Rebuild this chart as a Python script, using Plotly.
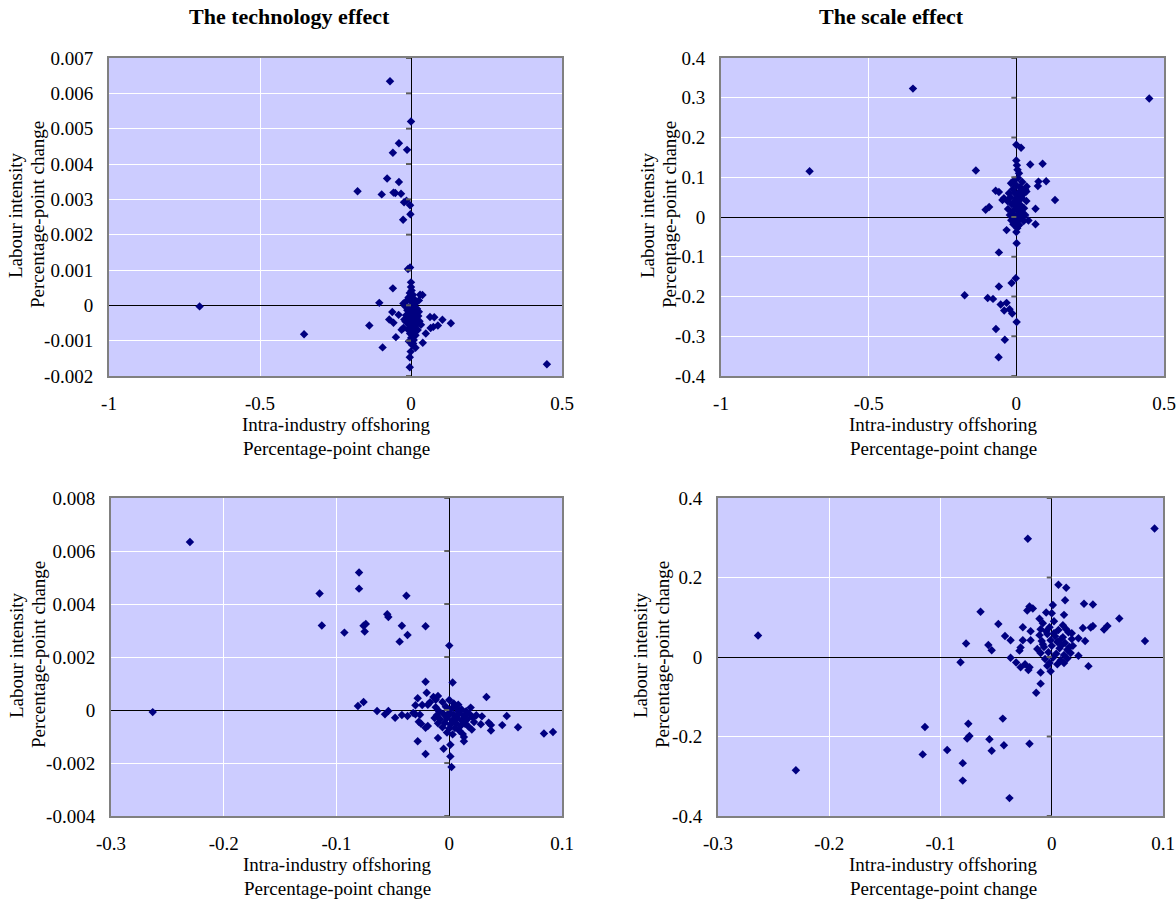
import plotly.graph_objects as go

# ---------------- data ----------------
# Top row: intra-industry offshoring (x) vs labour intensity (y)
tech_top_x = [-0.70, -0.354, 0.45,
    -0.0695, 0.0, -0.040, -0.060, -0.013, -0.079, -0.040, -0.177, -0.097, -0.058, -0.052, -0.033,
    -0.023, -0.015, -0.003, -0.002, -0.026, -0.010, -0.003, 0.0, -0.060, -0.105, -0.138, -0.094,
    0.132, 0.104, 0.089, 0.074, 0.065, 0.063, 0.077, 0.049, 0.039, 0.015, 0.007, -0.001, -0.004,
    -0.004, 0.038, 0.026, -0.062, -0.072, -0.058, -0.041, -0.050, -0.031, -0.025,
    0.000, 0.002, -0.004, 0.006, -0.008, 0.010, -0.015, 0.003, 0.014, -0.020, -0.006, 0.008, 0.020,
    -0.012, 0.001, 0.017, -0.003, 0.011, -0.016, 0.024, 0.005, -0.009, 0.014, -0.001, 0.028, -0.018,
    0.009, 0.019, -0.006, 0.003, 0.012, -0.011, 0.022, 0.006, -0.003, 0.015, 0.001, 0.009, -0.007,
    0.004, 0.030, -0.025, 0.026, -0.022, 0.033]
tech_top_y = [-0.00003, -0.00082, -0.00167,
    0.00634, 0.0052, 0.00459, 0.00432, 0.00440, 0.00359, 0.00349, 0.00323, 0.00314, 0.00319, 0.00318,
    0.00316, 0.00292, 0.00296, 0.00283, 0.00258, 0.00242, 0.00103, 0.00107, 0.00065, 0.00048, 0.00007,
    -0.00057, -0.00119, -0.00051, -0.00041, -0.00057, -0.00061, -0.00064, -0.00033, -0.00034, -0.00080,
    -0.00106, -0.00120, -0.00108, -0.00131, -0.00147, -0.00175, 0.00029, 0.00014, -0.00019, -0.00040,
    -0.00049, -0.00027, -0.00090, -0.00069, -0.00064,
    0.00052, 0.00042, 0.00035, 0.00030, 0.00022, 0.00018, 0.00012, 0.00010, 0.00005, -0.00002, -0.00005,
    -0.00008, -0.00010, -0.00014, -0.00016, -0.00019, -0.00022, -0.00025, -0.00028, -0.00030, -0.00033,
    -0.00036, -0.00040, -0.00042, -0.00045, -0.00046, -0.00050, -0.00054, -0.00056, -0.00060, -0.00065,
    -0.00068, -0.00070, -0.00075, -0.00080, -0.00085, -0.00092, -0.00098, -0.00102, -0.00112, 0.00030,
    0.00005, -0.00018, -0.00040, -0.00055]

scale_top_x = [-0.70, -0.35, 0.45,
    0.0, 0.016, -0.137, 0.047, 0.089, 0.0, 0.002, 0.004, 0.009, 0.075, 0.101, 0.073, 0.131, -0.070,
    -0.059, -0.047, -0.042, -0.104, -0.092, 0.035, 0.034, 0.065, 0.065, 0.041, -0.033, 0.0, 0.004,
    0.001, -0.059, -0.002, -0.016, -0.059, -0.175, -0.097, -0.079, -0.053, -0.033, -0.041, -0.023,
    -0.014, 0.001, -0.069, -0.039, -0.060,
    -0.018, -0.008, 0.006, 0.020, 0.030, -0.025, -0.012, 0.000, 0.012, 0.024, -0.030, -0.020, -0.005,
    0.008, 0.018, 0.034, -0.028, -0.015, -0.002, 0.005, 0.014, 0.026, -0.022, -0.010, 0.000, 0.010,
    0.020, 0.030, -0.017, -0.006, 0.004, 0.015, 0.025, -0.010, 0.002, 0.010, -0.003, 0.007, -0.008,
    0.017, -0.012, 0.003]
scale_top_y = [0.115, 0.323, 0.298,
    0.182, 0.174, 0.117, 0.132, 0.134, 0.142, 0.130, 0.119, 0.110, 0.089, 0.090, 0.078, 0.043, 0.066,
    0.063, 0.043, 0.047, 0.018, 0.025, 0.077, 0.064, 0.021, -0.018, -0.009, -0.033, -0.038, -0.023,
    -0.066, -0.089, -0.154, -0.166, -0.175, -0.197, -0.204, -0.206, -0.220, -0.216, -0.235, -0.232,
    -0.243, -0.264, -0.282, -0.309, -0.353,
    0.085, 0.092, 0.098, 0.088, 0.070, 0.060, 0.070, 0.080, 0.075, 0.058, 0.040, 0.050, 0.060,
    0.062, 0.048, 0.040, 0.020, 0.032, 0.045, 0.040, 0.030, 0.022, 0.005, 0.015, 0.025, 0.018,
    0.010, 0.005, -0.008, 0.000, 0.006, -0.003, -0.010, -0.018, -0.012, -0.020, 0.035, 0.052, 0.038,
    0.065, 0.005, -0.028]

# Bottom row
tech_bot_x = [-0.263, -0.230,
    -0.080, -0.115, -0.080, -0.038, -0.055, -0.054, -0.113, -0.093, -0.076, -0.074, -0.075, -0.042,
    -0.021, -0.037, -0.044, 0.0, -0.021, 0.003, -0.020, 0.033, -0.081, -0.076, -0.028, -0.030, -0.024,
    -0.014, -0.010, -0.012, -0.017, -0.019, -0.064, -0.057, -0.054, -0.048, -0.042, -0.037, -0.032,
    -0.030, -0.026, -0.027, -0.025, -0.021, -0.019, -0.028, -0.021, -0.010, -0.005, 0.001, 0.001,
    0.002, 0.013, 0.013, 0.012, 0.020, 0.029, 0.035, 0.037, 0.037, 0.028, 0.047, 0.051, 0.061, 0.084,
    0.092, 0.024, 0.019,
    -0.012, -0.006, 0.000, 0.004, 0.008, -0.009, -0.003, 0.002, 0.006, 0.011, 0.015, -0.011, -0.005,
    0.000, 0.004, 0.009, 0.013, 0.018, -0.008, -0.002, 0.003, 0.007, 0.011, 0.016, 0.021, -0.010,
    -0.004, 0.001, 0.006, 0.010, 0.014, -0.006, 0.000, 0.005, 0.009, -0.002, 0.003, 0.017, -0.013,
    0.022, 0.008, -0.001]
tech_bot_y = [-0.00008, 0.00634,
    0.00519, 0.00440, 0.00458, 0.00431, 0.00361, 0.00351, 0.00319, 0.00292, 0.00318, 0.00325, 0.00296,
    0.00318, 0.00316, 0.00283, 0.00258, 0.00243, 0.00107, 0.00104, 0.00065, 0.00049, 0.00015, 0.00030,
    0.00044, 0.00018, 0.00019, 0.00049, 0.00053, 0.00039, 0.00029, 0.00020, -0.00004, -0.00016,
    -0.00004, -0.00029, -0.00019, -0.00023, -0.00011, -0.00016, -0.00018, -0.00044, -0.00052,
    -0.00067, -0.00060, -0.00118, -0.00166, -0.00106, -0.00146, -0.00131, -0.00175, -0.00215,
    -0.00118, -0.00102, -0.00091, -0.00074, -0.00024, -0.00048, -0.00057, -0.00077, -0.00054,
    -0.00057, -0.00023, -0.00065, -0.00089, -0.00083, -0.00020, 0.00009,
    0.00010, 0.00030, 0.00038, 0.00025, 0.00020, -0.00005, 0.00012, 0.00005, 0.00010, 0.00002,
    -0.00005, -0.00020, -0.00015, -0.00010, -0.00018, -0.00012, -0.00022, -0.00015, -0.00035,
    -0.00030, -0.00038, -0.00030, -0.00040, -0.00035, -0.00028, -0.00050, -0.00048, -0.00055,
    -0.00050, -0.00060, -0.00052, -0.00065, -0.00070, -0.00068, -0.00078, -0.00085, -0.00092,
    -0.00062, -0.00030, -0.00045, -0.00005, -0.00022]

scale_bot_x = [-0.264, -0.230, 0.0924, -0.0215, 0.0838, 0.0607, 0.050, 0.047,
    0.006, 0.013, 0.012, 0.029, 0.037, 0.001, -0.020, -0.022, -0.017, -0.064, -0.005, 0.0, 0.011,
    -0.011, -0.048, -0.026, 0.028, 0.035, 0.037, -0.019, -0.042, -0.037, -0.077, -0.057, -0.054,
    0.018, 0.024, 0.030, 0.024, 0.033, -0.026, -0.019, -0.028, -0.029, -0.037, -0.032, -0.028,
    -0.024, -0.020, -0.021, -0.082, -0.010, -0.001, -0.010, -0.014, -0.044, -0.075, -0.114, -0.074,
    -0.076, -0.056, -0.043, -0.020, -0.054, -0.116, -0.094, -0.080, -0.080, -0.038,
    -0.008, 0.002, 0.010, -0.010, -0.002, 0.006, 0.015, -0.011, -0.004, 0.003, 0.010, 0.018, -0.009,
    -0.001, 0.005, 0.012, 0.019, -0.007, 0.000, 0.007, 0.014, -0.010, -0.003, 0.004, 0.011, 0.017,
    -0.006, 0.001, 0.008, 0.014, -0.002, 0.005, 0.011, -0.008, 0.008, -0.005, 0.013, 0.016, -0.013,
    0.002, -0.004, 0.009]
scale_bot_y = [0.054, -0.285, 0.3235, 0.2975, 0.040, 0.0966, 0.078, 0.069,
    0.182, 0.174, 0.143, 0.134, 0.132, 0.131, 0.127, 0.117, 0.122, 0.114, 0.112, 0.110, 0.106, 0.096,
    0.083, 0.075, 0.073, 0.074, 0.078, 0.065, 0.053, 0.042, 0.034, 0.030, 0.017, 0.060, 0.047, 0.040,
    0.003, -0.023, 0.042, 0.042, 0.024, 0.016, -0.002, -0.014, -0.026, -0.018, -0.026, -0.033,
    -0.013, -0.039, -0.036, -0.067, -0.090, -0.155, -0.168, -0.176, -0.199, -0.205, -0.207, -0.222,
    -0.218, -0.236, -0.245, -0.234, -0.267, -0.311, -0.355,
    0.085, 0.090, 0.080, 0.070, 0.075, 0.068, 0.062, 0.055, 0.058, 0.052, 0.050, 0.045, 0.040,
    0.042, 0.038, 0.035, 0.028, 0.025, 0.028, 0.022, 0.018, 0.010, 0.012, 0.008, 0.005, 0.010,
    -0.005, -0.002, -0.008, -0.004, -0.015, -0.018, -0.015, 0.032, 0.044, 0.065, 0.070, 0.025,
    0.020, 0.060, -0.022, 0.030]

# Axis ticks and labels
top_x_ticks = [-1, -0.5, 0, 0.5]
top_x_labels = ["-1", "-0.5", "0", "0.5"]
bot_x_ticks = [-0.3, -0.2, -0.1, 0, 0.1]
bot_x_labels = ["-0.3", "-0.2", "-0.1", "0", "0.1"]
tech_top_y_ticks = [-0.002, -0.001, 0, 0.001, 0.002, 0.003, 0.004, 0.005, 0.006, 0.007]
tech_top_y_labels = ["-0.002", "-0.001", "0", "0.001", "0.002", "0.003", "0.004", "0.005", "0.006", "0.007"]
scale_top_y_ticks = [-0.4, -0.3, -0.2, -0.1, 0, 0.1, 0.2, 0.3, 0.4]
scale_top_y_labels = ["-0.4", "-0.3", "-0.2", "-0.1", "0", "0.1", "0.2", "0.3", "0.4"]
tech_bot_y_ticks = [-0.004, -0.002, 0, 0.002, 0.004, 0.006, 0.008]
tech_bot_y_labels = ["-0.004", "-0.002", "0", "0.002", "0.004", "0.006", "0.008"]
scale_bot_y_ticks = [-0.4, -0.2, 0, 0.2, 0.4]
scale_bot_y_labels = ["-0.4", "-0.2", "0", "0.2", "0.4"]

titles = ["The technology effect", "The scale effect"]
x_title_lines = ["Intra-industry offshoring", "Percentage-point change"]
y_title_lines = ["Labour intensity", "Percentage-point change"]

# ---------------- layout ----------------
W, H = 1176, 899
FONT = "Liberation Serif, Times New Roman, serif"
MARK = "#000080"
BG = "#CCCCFF"
FS = 19


def px(x):
    return x / W


def py(y):
    return 1 - y / H


# pixel boxes: (left, right, top, bottom)
boxes = [(109, 562, 58, 376), (721, 1164, 58, 376), (111, 562, 498, 816), (718, 1163, 498, 816)]
panels = [
    (tech_top_x, tech_top_y, top_x_ticks, top_x_labels, tech_top_y_ticks, tech_top_y_labels),
    (scale_top_x, scale_top_y, top_x_ticks, top_x_labels, scale_top_y_ticks, scale_top_y_labels),
    (tech_bot_x, tech_bot_y, bot_x_ticks, bot_x_labels, tech_bot_y_ticks, tech_bot_y_labels),
    (scale_bot_x, scale_bot_y, bot_x_ticks, bot_x_labels, scale_bot_y_ticks, scale_bot_y_labels),
]

fig = go.Figure()
layout = dict(
    width=W, height=H, margin=dict(l=0, r=0, t=0, b=0, autoexpand=False),
    paper_bgcolor="white", showlegend=False,
    font=dict(family=FONT, size=FS, color="black"),
)
shapes = []
for i, ((l, r, t, b), (xs, ys, xt, xl, yt, yl)) in enumerate(zip(boxes, panels)):
    n = "" if i == 0 else str(i + 1)
    fig.add_trace(go.Scatter(
        x=xs, y=ys, mode="markers", xaxis="x" + n, yaxis="y" + n,
        marker=dict(symbol="diamond", size=6.5, color=MARK, line=dict(width=0)),
        hoverinfo="skip", cliponaxis=False))
    common = dict(showgrid=True, gridcolor="white", gridwidth=1,
                  zeroline=True, zerolinecolor="black", zerolinewidth=1,
                  showline=True, mirror=True, linecolor="#808080", linewidth=2,
                  ticks="", automargin=False, ticklabeloverflow="allow",
                  tickfont=dict(family=FONT, size=FS, color="black"))
    layout["xaxis" + n] = dict(common, domain=[px(l), px(r)], anchor="y" + n,
                               range=[xt[0], xt[-1]], tickvals=xt, ticktext=xl,
                               ticklabelstandoff=9)
    layout["yaxis" + n] = dict(common, domain=[py(b), py(t)], anchor="x" + n,
                               range=[yt[0], yt[-1]], tickvals=yt, ticktext=yl,
                               ticklabelstandoff=10)
    for v in yt:
        shapes.append(dict(type="line", xref="x" + n, yref="y" + n,
                           xsizemode="pixel", xanchor=0, x0=-5, x1=0, y0=v, y1=v,
                           line=dict(color="#606060", width=2)))
layout["plot_bgcolor"] = BG
layout["shapes"] = shapes

annotations = []
# panel titles
for txt, cx in zip(titles, [289, 891]):
    annotations.append(dict(text="<b>" + txt + "</b>", x=px(cx), y=py(16), xref="paper", yref="paper",
                            xanchor="center", yanchor="middle", showarrow=False,
                            font=dict(family=FONT, size=22, color="black")))
# x-axis titles (two lines each)
for cx, cy in [(336, 424), (943, 424), (337, 864), (943, 864)]:
    for k, line in enumerate(x_title_lines):
        annotations.append(dict(text=line, x=px(cx), y=py(cy + 24 * k), xref="paper", yref="paper",
                                xanchor="center", yanchor="middle", showarrow=False,
                                font=dict(family=FONT, size=FS, color="black")))
# y-axis titles (two rotated lines each)
for cx, cy in [(16, 215), (648, 215), (16, 655), (640, 655)]:
    for k, line in enumerate(y_title_lines):
        annotations.append(dict(text=line, x=px(cx + 22 * k), y=py(cy), xref="paper", yref="paper",
                                xanchor="center", yanchor="middle", textangle=-90, showarrow=False,
                                font=dict(family=FONT, size=FS, color="black")))
layout["annotations"] = annotations

fig.update_layout(**layout)
fig.write_html("out.html", config={"displayModeBar": False},
               post_script="document.body.style.margin='0';document.body.style.overflow='hidden';")
